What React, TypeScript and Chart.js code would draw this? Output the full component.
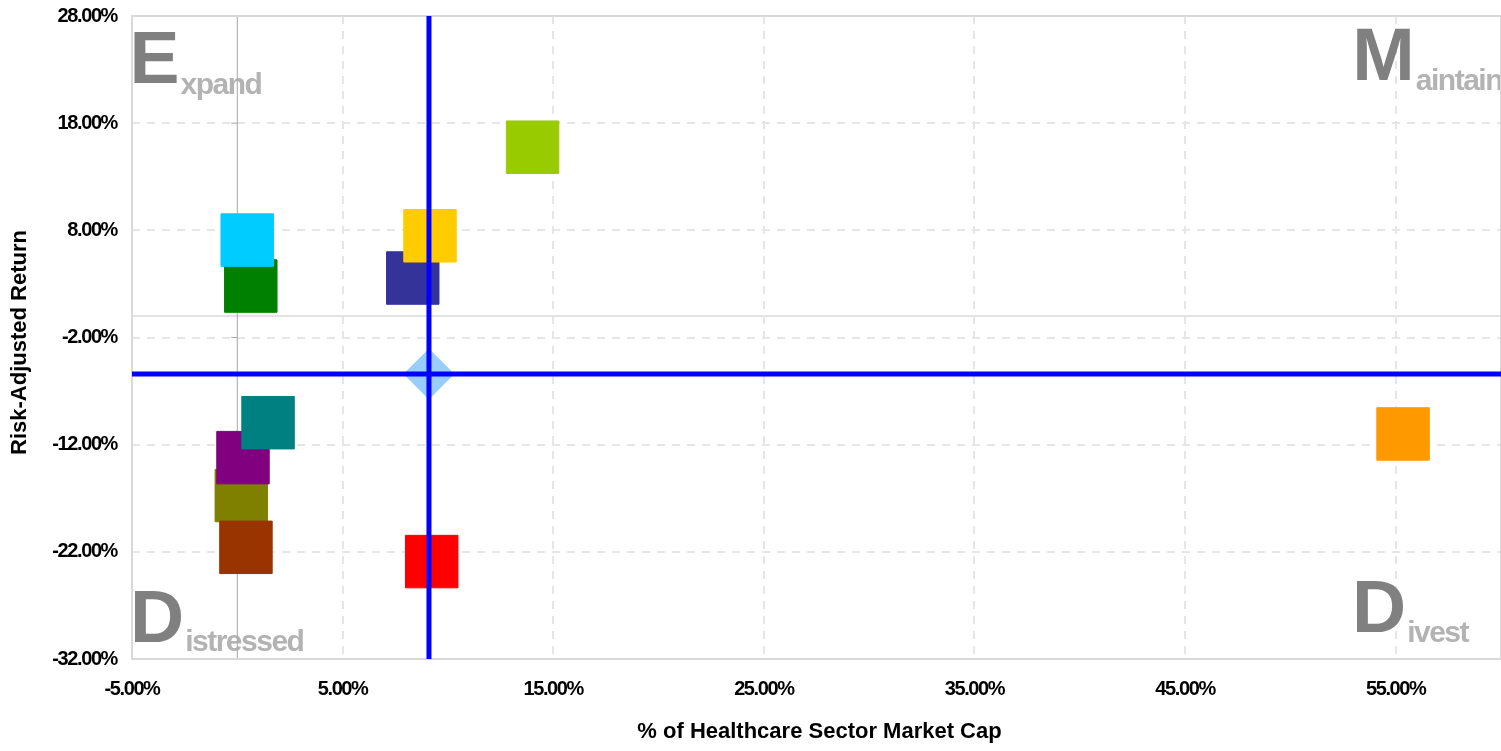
import React, { useEffect, useRef } from "react";
import { Chart, registerables } from "chart.js";

Chart.register(...registerables);

// ---- data ----
const pointLabels = ["Green", "Cyan", "Navy", "Gold", "Olive", "Purple", "Teal", "Brown", "Red", "Lime", "Orange"];
const xValues = [0.64, 0.47, 8.33, 9.15, 0.19, 0.27, 1.46, 0.41, 9.23, 14.02, 55.35];
const yValues = [2.8, 7.09, 3.55, 7.49, -16.75, -13.21, -9.95, -21.58, -22.91, 15.76, -11.0];
const pointColors = ["#008000", "#00CCFF", "#333399", "#FFCC00", "#808000", "#800080", "#008080", "#993300", "#FF0000", "#99CC00", "#FF9900"];
const averageX = 9.1;
const averageY = -5.4;
const xTicks = [-5, 5, 15, 25, 35, 45, 55];
const yTicks = [28, 18, 8, -2, -12, -22, -32];
const xMin = -5;
const xMax = 60;
const yMin = -32;
const yMax = 28;
const xTitle = "% of Healthcare Sector Market Cap";
const yTitle = "Risk-Adjusted Return";
const quadrants = [
  { cap: "E", rest: "xpand" },
  { cap: "M", rest: "aintain" },
  { cap: "D", rest: "istressed" },
  { cap: "D", rest: "ivest" },
];

const FONT = '"Liberation Sans", Arial, sans-serif';

const decorPlugin = {
  id: "decor",
  beforeDraw(chart: any) {
    chart.ctx.letterSpacing = "-1.4px";
  },
  beforeDatasetsDraw(chart: any) {
    const { ctx, chartArea } = chart;
    const { left, top, right, bottom } = chartArea;
    const xs = chart.scales.x;
    const ys = chart.scales.y;
    ctx.save();
    // quadrant labels
    const drawLabel = (q: any, x: number, capBase: number, restBase: number, alignRight: boolean) => {
      ctx.letterSpacing = "0px";
      ctx.font = `bold 75px ${FONT}`;
      ctx.textBaseline = "alphabetic";
      ctx.textAlign = "left";
      const cw = ctx.measureText(q.cap).width;
      ctx.font = `bold 30px ${FONT}`;
      ctx.letterSpacing = "-1.5px";
      const rw = ctx.measureText(q.rest).width;
      let sx = x;
      if (alignRight) sx = x - cw - 1 - rw;
      ctx.letterSpacing = "0px";
      ctx.font = `bold 75px ${FONT}`;
      ctx.fillStyle = "#808080";
      ctx.fillText(q.cap, sx, capBase);
      ctx.font = `bold 30px ${FONT}`;
      ctx.letterSpacing = "-1.5px";
      ctx.fillStyle = "#b3b3b3";
      ctx.fillText(q.rest, sx + cw + 1, restBase);
    };
    drawLabel(quadrants[0], left - 2.5, top + 67, top + 77.5, false);
    drawLabel(quadrants[1], right + 1, top + 64, top + 74, true);
    drawLabel(quadrants[2], left - 2, bottom - 17.5, bottom - 7.6, false);
    drawLabel(quadrants[3], right - 149, bottom - 26.6, bottom - 17.3, false);

    // zero lines
    const x0 = xs.getPixelForValue(0);
    const y0 = ys.getPixelForValue(0);
    ctx.strokeStyle = "#e3e3e3";
    ctx.lineWidth = 2;
    ctx.beginPath();
    ctx.moveTo(left, y0);
    ctx.lineTo(right, y0);
    ctx.stroke();
    ctx.strokeStyle = "#a6a6a6";
    ctx.lineWidth = 1;
    ctx.beginPath();
    ctx.moveTo(x0, top);
    ctx.lineTo(x0, bottom);
    for (const v of yTicks) {
      const py = ys.getPixelForValue(v);
      ctx.moveTo(x0 - 6, py);
      ctx.lineTo(x0, py);
    }
    ctx.stroke();
    // frame
    ctx.strokeStyle = "#d9d9d9";
    ctx.lineWidth = 2;
    ctx.strokeRect(left, top, right - left, bottom - top);
    ctx.restore();
  },
  afterDraw(chart: any) {
    const { ctx, chartArea } = chart;
    ctx.save();
    ctx.letterSpacing = "0px";
    ctx.fillStyle = "#000000";
    ctx.font = `bold 22px ${FONT}`;
    ctx.textAlign = "center";
    ctx.textBaseline = "alphabetic";
    ctx.fillText(xTitle, (chartArea.left + chartArea.right) / 2 + 3, 738);
    ctx.translate(25.5, 342.5);
    ctx.rotate(-Math.PI / 2);
    ctx.font = `bold 22px ${FONT}`;
    ctx.fillText(yTitle, 0, 0);
    ctx.restore();
  },
};

export default function App() {
  const ref = useRef<HTMLCanvasElement | null>(null);
  useEffect(() => {
    if (!ref.current) return;
    const squares = xValues.map((x, i) => ({ x, y: yValues[i] }));
    const chart = new Chart(ref.current, {
      type: "scatter",
      data: {
        labels: pointLabels,
        datasets: [
          {
            label: "Average X",
            data: [{ x: averageX, y: yMin }, { x: averageX, y: yMax }],
            showLine: true,
            borderColor: "#0000FF",
            borderWidth: 5,
            pointRadius: 0,
          } as any,
          {
            label: "Average Y",
            data: [{ x: xMin, y: averageY }, { x: xMax, y: averageY }],
            showLine: true,
            borderColor: "#0000FF",
            borderWidth: 5,
            pointRadius: 0,
          } as any,
          {
            label: "Average",
            data: [{ x: averageX, y: averageY }],
            pointStyle: "rectRot",
            pointRadius: 25.5,
            backgroundColor: "#99CCFF",
            borderColor: "#99CCFF",
            borderWidth: 0,
          } as any,
          {
            label: "Segments",
            data: squares,
            pointStyle: "rect",
            pointRadius: 37.1,
            backgroundColor: pointColors,
            borderColor: pointColors,
            borderWidth: 1,
          } as any,
        ],
      },
      options: {
        animation: false,
        responsive: false,
        events: [],
        layout: { autoPadding: false, padding: { top: 16, left: 0, right: 0, bottom: 0 } },
        plugins: { legend: { display: false }, tooltip: { enabled: false } },
        scales: {
          x: {
            type: "linear",
            min: xMin,
            max: xMax,
            afterBuildTicks: (s: any) => {
              s.ticks = xTicks.map((value) => ({ value }));
            },
            afterFit: (s: any) => {
              s.height = 92;
              s.paddingLeft = 0;
              s.paddingRight = 0;
              s.paddingTop = 0;
              s.paddingBottom = 0;
            },
            grid: { color: "#e6e6e6", lineWidth: 2, drawTicks: false },
            border: { display: false, dash: [8, 7] },
            ticks: {
              padding: 18,
              color: "#000000",
              font: { family: FONT, size: 20, weight: "bold" },
              callback: (v: any) => `${Number(v).toFixed(2)}%`,
              maxRotation: 0,
            },
          },
          y: {
            type: "linear",
            min: yMin,
            max: yMax,
            afterBuildTicks: (s: any) => {
              s.ticks = yTicks.map((value) => ({ value }));
            },
            afterFit: (s: any) => {
              s.width = 132;
              s.paddingLeft = 0;
              s.paddingRight = 0;
              s.paddingTop = 0;
              s.paddingBottom = 0;
            },
            grid: { color: "#e6e6e6", lineWidth: 2, drawTicks: false },
            border: { display: false, dash: [8, 7] },
            ticks: {
              padding: 15,
              color: "#000000",
              font: { family: FONT, size: 20, weight: "bold" },
              callback: (v: any) => `${Number(v).toFixed(2)}%`,
            },
          },
        },
      },
      plugins: [decorPlugin],
    } as any);
    return () => chart.destroy();
  }, []);
  return (
    <div style={{ position: "absolute", left: 0, top: 0, width: 1501, height: 751, background: "#fff" }}>
      <canvas ref={ref} width={1501} height={751} />
    </div>
  );
}
